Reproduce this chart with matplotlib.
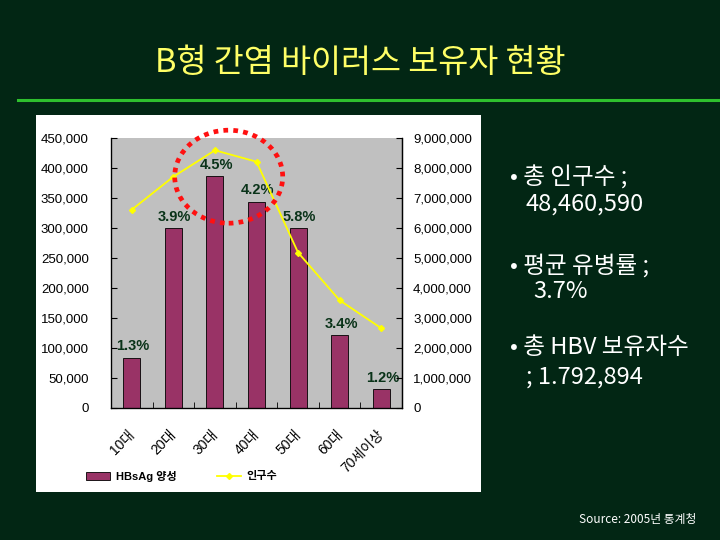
import matplotlib.pyplot as plt
from matplotlib.patches import Rectangle, Ellipse
from matplotlib.lines import Line2D
from matplotlib.ticker import FuncFormatter
import numpy as np

plt.rcParams['font.family'] = ['Liberation Sans', 'Noto Sans CJK KR', 'DejaVu Sans']

ages = ['10대', '20대', '30대', '40대', '50대', '60대', '70세이상']
carriers = [84000, 300000, 386000, 344000, 300000, 121000, 31000]
population = [6610000, 7710000, 8590000, 8210000, 5180000, 3590000, 2660000]
prevalence = ['1.3%', '3.9%', '4.5%', '4.2%', '5.8%', '3.4%', '1.2%']

title = 'B형 간염 바이러스 보유자 현황'
notes = ['• 총 인구수 ;', '48,460,590', '• 평균 유병률 ;', '3.7%',
         '• 총 HBV 보유자수', '; 1.792,894']

bg = '#022614'
cjk = ['Noto Sans CJK KR', 'DejaVu Sans']
fig = plt.figure(figsize=(7.2, 5.4), dpi=100)
fig.patch.set_facecolor(bg)

# title + green rule
fig.text(0.5, 1 - 63 / 540, title, color='#FFFF66', fontsize=23.5,
         ha='center', va='center', family=cjk)
fig.add_artist(Line2D([18 / 720, 1], [1 - 100 / 540] * 2, color='#2EC02E', lw=2.2))

# white chart panel
fig.add_artist(Rectangle((36 / 720, 1 - 492 / 540), 445 / 720, 377 / 540,
                         facecolor='white', edgecolor='none', zorder=0))

ax = fig.add_axes([111 / 720, 1 - 408 / 540, 291 / 720, 270 / 540])
ax.set_facecolor('#C0C0C0')
x = np.arange(len(ages))
bars = ax.bar(x, carriers, width=0.41, color='#993366', edgecolor='black',
              linewidth=0.6, label='HBsAg 양성', zorder=2)
ax.set_xlim(-0.5, len(ages) - 0.5)
ax.set_ylim(0, 450000)
ax.set_yticks(np.arange(0, 450001, 50000))
ax.yaxis.set_major_formatter(FuncFormatter(lambda v, p: f'{int(v):,}'))
ax.tick_params(axis='y', direction='in', length=4, labelsize=9.5, pad=16)
ax.set_xticks(x - 0.1)
ax.set_xticklabels(ages, rotation=45, ha='right', rotation_mode='anchor',
                   fontsize=10)
ax.tick_params(axis='x', length=0, pad=14)
ax.set_xticks(np.arange(-0.5, len(ages)), minor=True)
ax.tick_params(axis='x', which='minor', direction='in', length=4)
ax.spines['top'].set_visible(False)
for s in ['left', 'right', 'bottom']:
    ax.spines[s].set_linewidth(0.9)

for xi, h, lab in zip(x, carriers, prevalence):
    ax.annotate(lab, (xi, h), xytext=(1, 3), textcoords='offset points',
                ha='center', va='bottom', fontsize=10.5, fontweight='bold',
                color='#0A3319', zorder=5)

ax2 = ax.twinx()
ax2.plot(x, population, color='#FFFF00', lw=1.3, marker='D', markersize=3,
         label='인구수', zorder=3)
ax2.set_ylim(0, 9000000)
ax2.set_yticks(np.arange(0, 9000001, 1000000))
ax2.yaxis.set_major_formatter(FuncFormatter(lambda v, p: f'{int(v):,}'))
ax2.tick_params(axis='y', direction='in', length=4, labelsize=9.5, pad=8)
ax2.spines['top'].set_visible(False)
ax2.spines['right'].set_linewidth(0.9)

# legend
fig.legend(handles=[bars, ax2.lines[0]], labels=['HBsAg 양성', '인구수'],
           loc='center left', bbox_to_anchor=(76 / 720, 1 - 476 / 540),
           ncol=2, frameon=False, handlelength=2.2, handletextpad=0.5,
           columnspacing=3.6, prop={'size': 8, 'weight': 'bold'})

# red dotted highlight
fig.add_artist(Ellipse((228.7 / 720, 1 - 176.7 / 540), 108 / 720, 93 / 540,
                       transform=fig.transFigure, fill=False,
                       edgecolor='#FF1010', lw=3.4, linestyle=(0, (1, 1.1)),
                       zorder=10))

# bullet notes
ys = [178, 204, 266, 292, 348, 377]
xs = [510, 526, 510, 533, 510, 526]
for t, xx, yy in zip(notes, xs, ys):
    fig.text(xx / 720, 1 - yy / 540, t, color='white', fontsize=17,
             ha='left', va='center', family=cjk)

fig.text(696 / 720, 1 - 520 / 540, 'Source: 2005년 통계청', color='white',
         fontsize=8.5, ha='right', va='center', family=cjk)

fig.savefig('out.png', dpi=100, facecolor=bg)
